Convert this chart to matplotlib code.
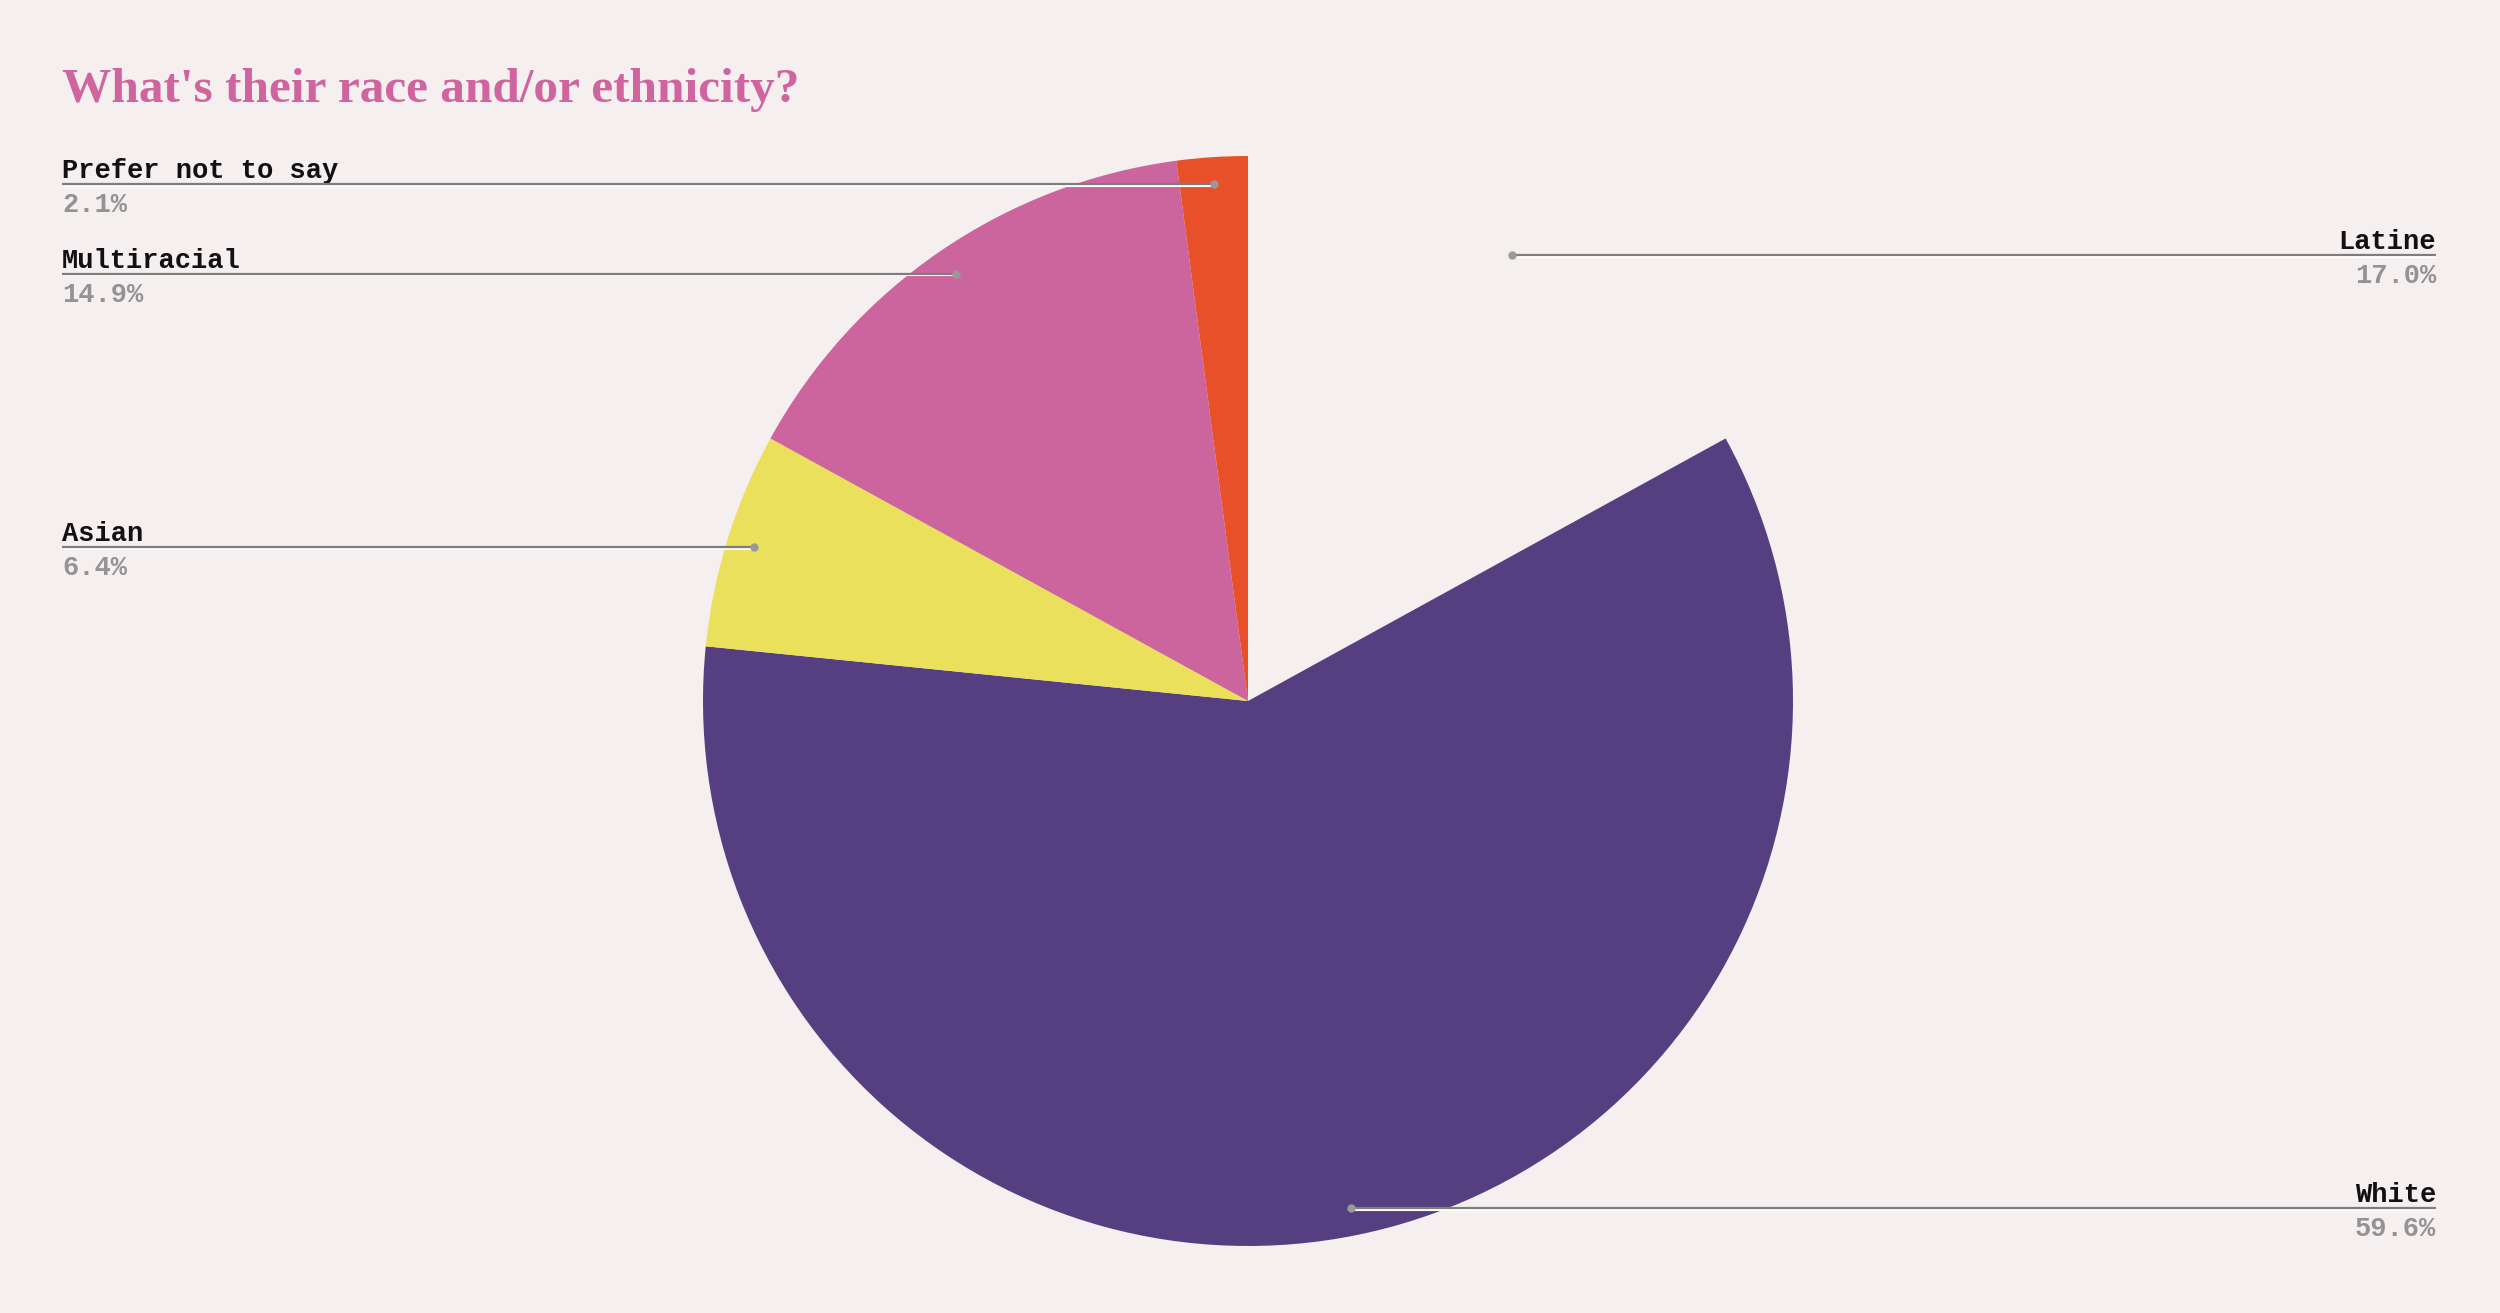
import numpy as np
import matplotlib
matplotlib.use('Agg')
import matplotlib.pyplot as plt

# data
labels = ['Latine', 'White', 'Asian', 'Multiracial', 'Prefer not to say']
shares = [17.0, 59.6, 6.4, 14.9, 2.1]
colors = ['#F5EFEF', '#563F80', '#EBE05C', '#CC659E', '#E8502A']

bg = '#F5EFEF'
W, H = 2500, 1313
cx, cy, r = 1248, H - 701, 545

fig = plt.figure(figsize=(25, 13.13), dpi=100, facecolor=bg)
ax = fig.add_axes([0, 0, 1, 1])
ax.set_facecolor(bg)

ax.pie(shares, colors=colors, startangle=90, counterclock=False,
       center=(cx, cy), radius=r, wedgeprops=dict(linewidth=0))

ax.set_xlim(0, W)
ax.set_ylim(0, H)
ax.set_aspect('equal')
ax.axis('off')

# callout lines + labels
mono = 'Liberation Mono'
cum = np.cumsum([0] + shares[:-1])
for lab, val, start in zip(labels, shares, cum):
    ang = np.deg2rad((start + val / 2) / 100 * 360)
    dx = 0.95 * r * np.sin(ang)
    dy = 0.95 * r * np.cos(ang)
    px, py = cx + dx, cy + dy
    if dx < 0:
        x0, x1, ha, tx = 62, px, 'left', 62
    else:
        x0, x1, ha, tx = px, 2436, 'right', 2436
    ax.plot([x0, x1], [py - 1.5, py - 1.5], color='white', lw=1.5, solid_capstyle='butt', zorder=3)
    ax.plot([x0, x1], [py, py], color='#7d7d7d', lw=1.6, solid_capstyle='butt', zorder=4)
    ax.plot([px], [py], 'o', color='#999999', ms=5, zorder=5)
    ax.text(tx, py + 6, lab, ha=ha, va='baseline', family=mono, weight='bold',
            fontsize=19.5, color='#111111')
    ax.text(tx, py - 8, f'{val:.1f}%', ha=ha, va='top', family=mono, weight='bold',
            fontsize=19.5, color='#939393')

ax.text(62, H - 102, "What's their race and/or ethnicity?", ha='left', va='baseline',
        family='Liberation Serif', weight='bold', fontsize=35.5, color='#D0649E')

fig.savefig('out.png', dpi=100, facecolor=bg)
